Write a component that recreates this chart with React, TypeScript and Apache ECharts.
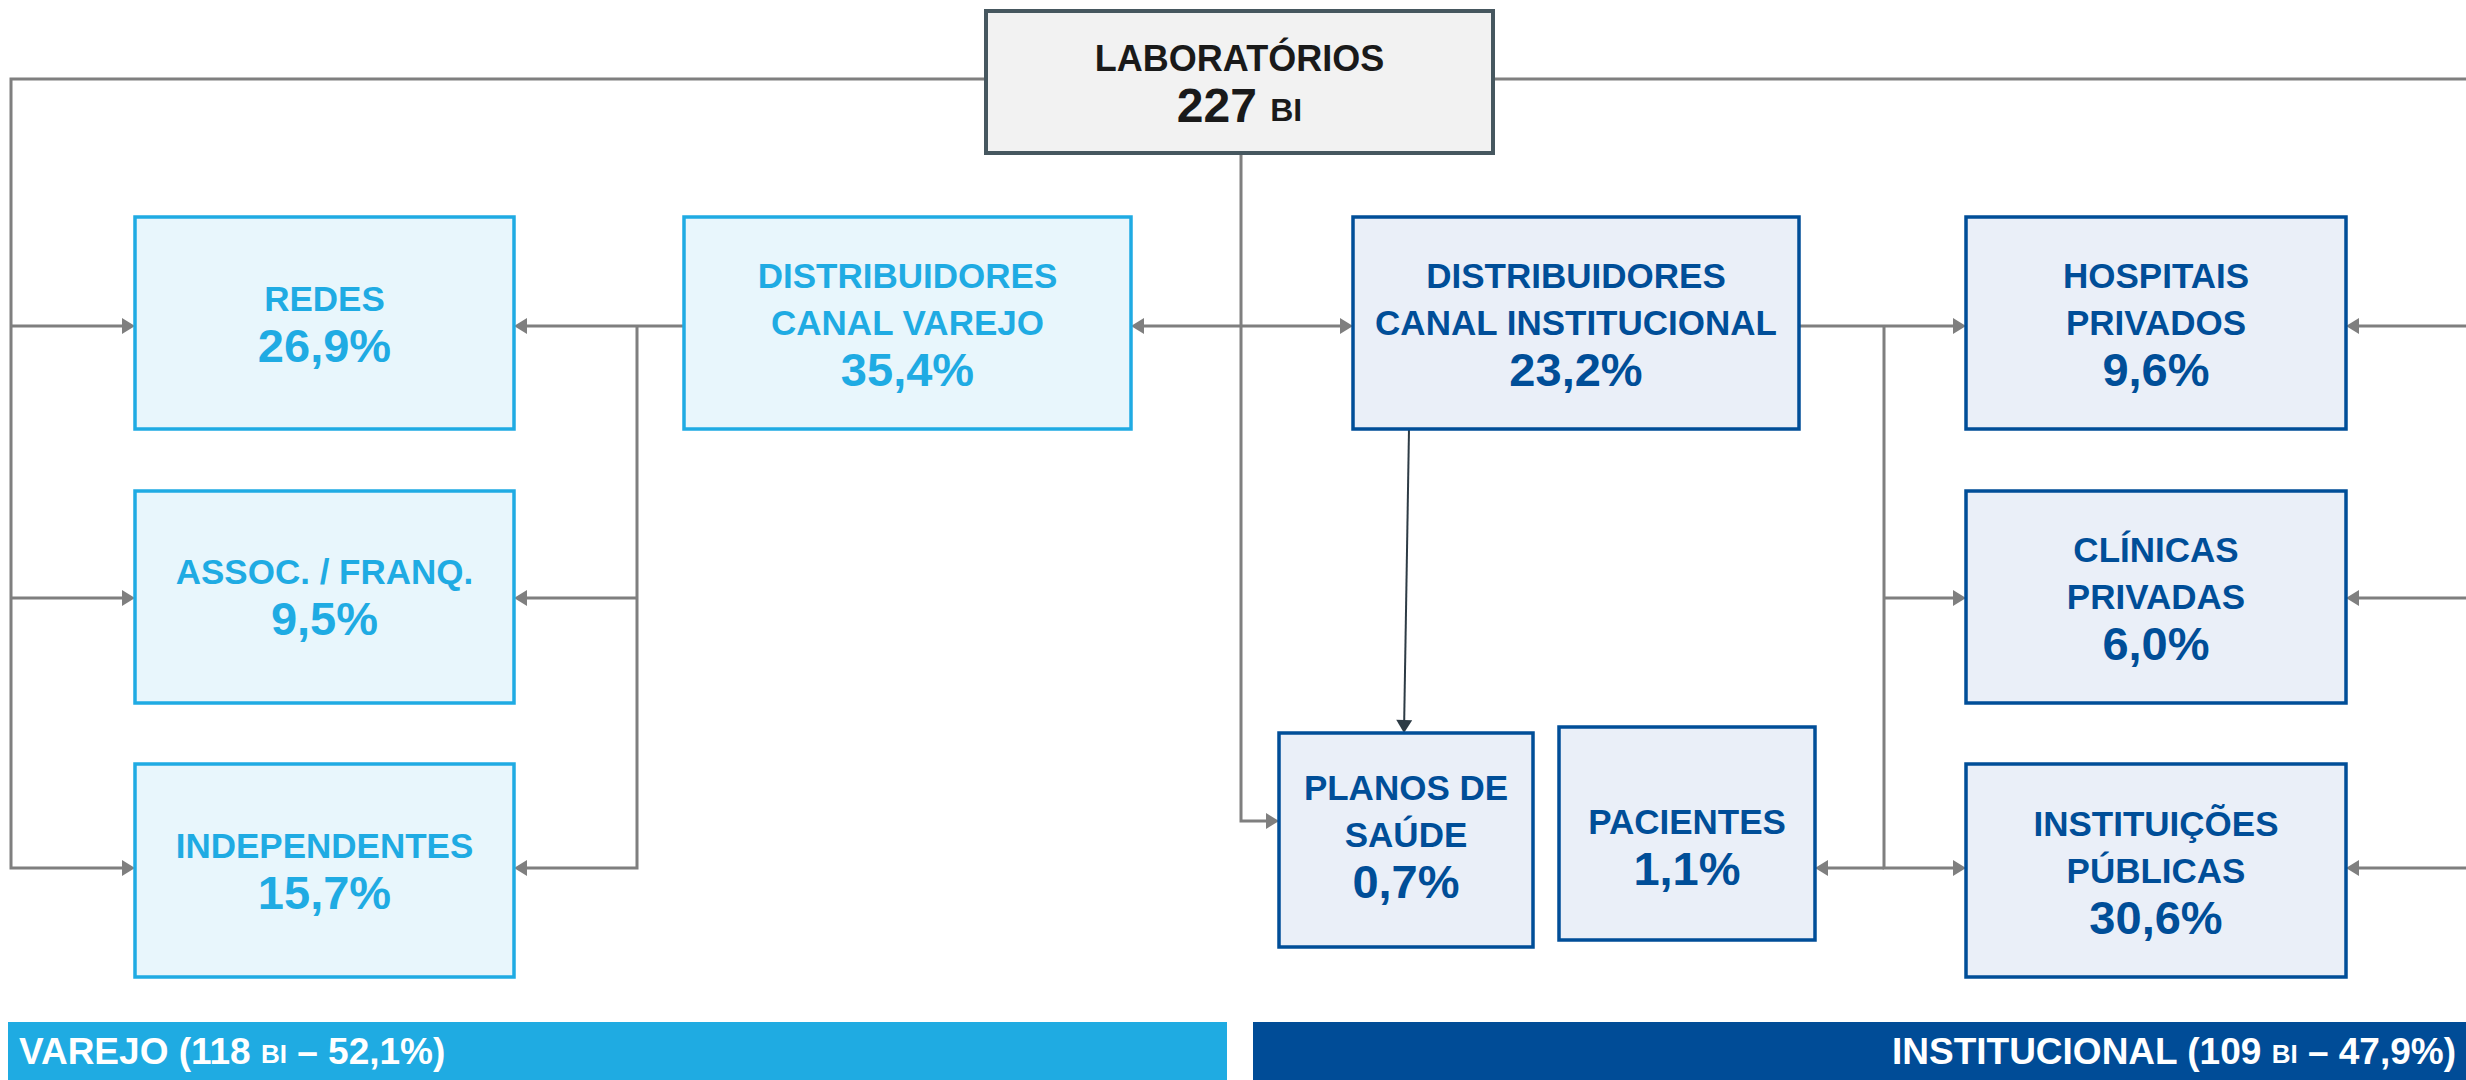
import React, { useEffect, useRef } from "react";
import * as echarts from "echarts";

// ---------- data ----------
const totalLabel = "LABORATÓRIOS";
const totalValue = 227;
const unitLabel = "BI";

const nodeNames: string[][] = [
  ["REDES"],
  ["ASSOC. / FRANQ."],
  ["INDEPENDENTES"],
  ["DISTRIBUIDORES", "CANAL VAREJO"],
  ["DISTRIBUIDORES", "CANAL INSTITUCIONAL"],
  ["HOSPITAIS", "PRIVADOS"],
  ["CLÍNICAS", "PRIVADAS"],
  ["INSTITUIÇÕES", "PÚBLICAS"],
  ["PLANOS DE", "SAÚDE"],
  ["PACIENTES"],
];
const nodeShares = [26.9, 9.5, 15.7, 35.4, 23.2, 9.6, 6.0, 30.6, 0.7, 1.1];
const nodeChannel = [0, 0, 0, 0, 1, 1, 1, 1, 1, 1];

const channelNames = ["VAREJO", "INSTITUCIONAL"];
const channelValues = [118, 109];
const channelShares = [52.1, 47.9];

// ---------- layout & style ----------
const W = 2466;
const H = 1080;
const FONT = "Liberation Sans";
const GRAY = "#7f7f7f";
const DARK_LINE = "#2d3b45";
const channelStyle = [
  { border: "#1fabe3", fill: "#e8f6fc", text: "#1fabe3", bar: "#1fabe2" },
  { border: "#004e98", fill: "#eaeff8", text: "#004e98", bar: "#004c97" },
];
const labBox = { x: 986, y: 11, w: 507, h: 142 };
const boxLayout = [
  { x: 135, y: 217, w: 379, h: 212, ty: 322 },
  { x: 135, y: 491, w: 379, h: 212, ty: 595 },
  { x: 135, y: 764, w: 379, h: 213, ty: 869 },
  { x: 684, y: 217, w: 447, h: 212, ty: 322 },
  { x: 1353, y: 217, w: 446, h: 212, ty: 322 },
  { x: 1966, y: 217, w: 380, h: 212, ty: 322 },
  { x: 1966, y: 491, w: 380, h: 212, ty: 596 },
  { x: 1966, y: 764, w: 380, h: 213, ty: 870 },
  { x: 1279, y: 733, w: 254, h: 214, ty: 834 },
  { x: 1559, y: 727, w: 256, h: 213, ty: 845 },
];
type Conn = { pts: number[][]; end?: boolean; start?: boolean; color?: string; width?: number };
const connectors: Conn[] = [
  { pts: [[986, 79], [11, 79], [11, 868], [135, 868]], end: true },
  { pts: [[11, 326], [135, 326]], end: true },
  { pts: [[11, 598], [135, 598]], end: true },
  { pts: [[1493, 79], [2470, 79]] },
  { pts: [[2470, 326], [2346, 326]], end: true },
  { pts: [[2470, 598], [2346, 598]], end: true },
  { pts: [[2470, 868], [2346, 868]], end: true },
  { pts: [[684, 326], [514, 326]], end: true },
  { pts: [[637, 326], [637, 868], [514, 868]], end: true },
  { pts: [[637, 598], [514, 598]], end: true },
  { pts: [[1131, 326], [1353, 326]], end: true, start: true },
  { pts: [[1241, 153], [1241, 821], [1279, 821]], end: true },
  { pts: [[1799, 326], [1966, 326]], end: true },
  { pts: [[1884, 326], [1884, 868], [1966, 868]], end: true },
  { pts: [[1884, 598], [1966, 598]], end: true },
  { pts: [[1884, 868], [1815, 868]], end: true },
  { pts: [[1409, 429], [1404, 733]], end: true, color: DARK_LINE, width: 2 },
];
const bars = [
  { x: 8, y: 1022, w: 1219, h: 58, tx: 19, align: "left" },
  { x: 1253, y: 1022, w: 1213, h: 58, tx: 2456, align: "right" },
];

const fmtPct = (v: number) => v.toFixed(1).replace(".", ",") + "%";

function arrowHead(tip: number[], from: number[], color: string, len = 13, half = 8) {
  const dx = tip[0] - from[0];
  const dy = tip[1] - from[1];
  const d = Math.hypot(dx, dy);
  const ux = dx / d;
  const uy = dy / d;
  const bx = tip[0] - ux * len;
  const by = tip[1] - uy * len;
  return {
    type: "polygon",
    z: 4,
    shape: { points: [tip, [bx - uy * half, by + ux * half], [bx + uy * half, by - ux * half]] },
    style: { fill: color },
  };
}

function shorten(p: number[], from: number[], len: number) {
  const dx = p[0] - from[0];
  const dy = p[1] - from[1];
  const d = Math.hypot(dx, dy);
  return [p[0] - (dx / d) * len, p[1] - (dy / d) * len];
}

function textEl(text: string, x: number, y: number, size: number, color: string, align = "center", rich?: any) {
  return {
    type: "text",
    z: 10,
    style: {
      text,
      x,
      y,
      fill: color,
      fontSize: size,
      fontFamily: FONT,
      fontWeight: "bold",
      align,
      textAlign: align,
      verticalAlign: "middle",
      textVerticalAlign: "middle",
      rich,
    },
  };
}

function buildGraphic() {
  const els: any[] = [];
  connectors.forEach((c) => {
    const color = c.color || GRAY;
    const width = c.width || 3;
    const pts = c.pts.map((p) => p.slice());
    const n = pts.length;
    if (c.end) {
      els.push(arrowHead(c.pts[n - 1], c.pts[n - 2], color));
      pts[n - 1] = shorten(c.pts[n - 1], c.pts[n - 2], 11);
    }
    if (c.start) {
      els.push(arrowHead(c.pts[0], c.pts[1], color));
      pts[0] = shorten(c.pts[0], c.pts[1], 11);
    }
    els.push({
      type: "polyline",
      z: 3,
      shape: { points: pts },
      style: { stroke: color, lineWidth: width, fill: null },
    });
  });

  els.push({
    type: "rect",
    z: 6,
    shape: { x: labBox.x, y: labBox.y, width: labBox.w, height: labBox.h },
    style: { fill: "#f2f2f2", stroke: "#46575f", lineWidth: 4 },
  });
  const cx = labBox.x + labBox.w / 2;
  els.push(textEl(totalLabel, cx, 58, 36, "#1a1a1a"));
  els.push(
    textEl(`{a|${totalValue}} {b|${unitLabel}}`, cx, 105, 48, "#1a1a1a", "center", {
      a: { fontSize: 48, fontFamily: FONT, fontWeight: "bold", fill: "#1a1a1a", color: "#1a1a1a", verticalAlign: "bottom", lineHeight: 48 },
      b: { fontSize: 32, fontFamily: FONT, fontWeight: "bold", fill: "#1a1a1a", color: "#1a1a1a", verticalAlign: "bottom", lineHeight: 32, padding: [0, 0, 3, 0] },
    })
  );

  nodeNames.forEach((names, i) => {
    const L = boxLayout[i];
    const st = channelStyle[nodeChannel[i]];
    els.push({
      type: "rect",
      z: 6,
      shape: { x: L.x, y: L.y, width: L.w, height: L.h },
      style: { fill: st.fill, stroke: st.border, lineWidth: 3.5 },
    });
    const lines = [...names, fmtPct(nodeShares[i])];
    const cxx = L.x + L.w / 2;
    lines.forEach((t, j) => {
      const y = L.ty + (j - (lines.length - 1) / 2) * 47;
      const isPct = j === lines.length - 1;
      els.push(textEl(t, cxx, y, isPct ? 47 : 35, st.text));
    });
  });

  bars.forEach((b, i) => {
    const st = channelStyle[i];
    els.push({
      type: "rect",
      z: 6,
      shape: { x: b.x, y: b.y, width: b.w, height: b.h },
      style: { fill: st.bar },
    });
    const txt = `{a|${channelNames[i]} (${channelValues[i]} }{b|${unitLabel}}{a| – ${fmtPct(channelShares[i])})}`;
    els.push(
      textEl(txt, b.tx, b.y + b.h / 2, 37, "#ffffff", b.align, {
        a: { fontSize: 37, fontFamily: FONT, fontWeight: "bold", fill: "#ffffff", color: "#ffffff", verticalAlign: "bottom", lineHeight: 37 },
        b: { fontSize: 26, fontFamily: FONT, fontWeight: "bold", fill: "#ffffff", color: "#ffffff", verticalAlign: "bottom", lineHeight: 26, padding: [0, 0, 3, 0] },
      })
    );
  });
  return els;
}

export default function App() {
  const ref = useRef<HTMLDivElement>(null);
  useEffect(() => {
    if (!ref.current) return;
    const chart = echarts.init(ref.current, undefined, { renderer: "svg" });
    chart.setOption({
      animation: false,
      backgroundColor: "#ffffff",
      graphic: { elements: buildGraphic() },
    });
    return () => chart.dispose();
  }, []);
  return (
    <div
      ref={ref}
      style={{ position: "fixed", left: 0, top: 0, width: W, height: H, background: "#fff" }}
    />
  );
}
